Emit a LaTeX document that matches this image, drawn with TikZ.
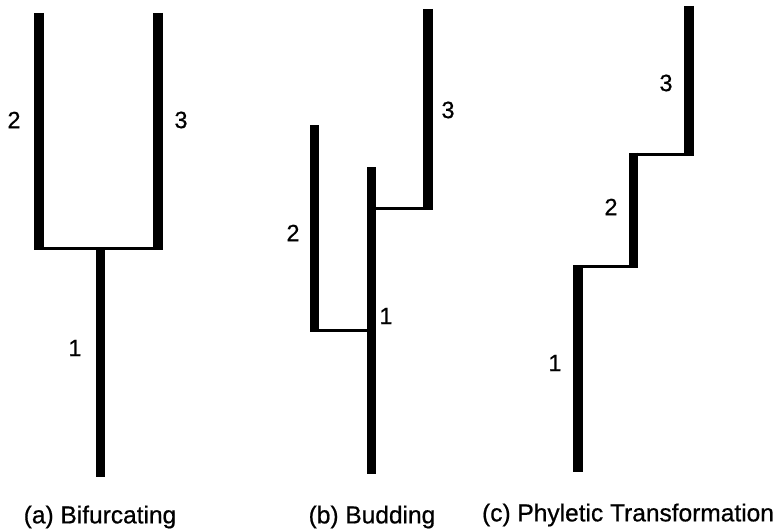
\documentclass[tikz,border=0pt]{standalone}
\usepackage{fontspec}
\setmainfont[FakeBold=0.7]{Liberation Sans}
\begin{document}
\begin{tikzpicture}[x=1pt,y=-1pt,
  lineage/.style={line width=9.5pt,line cap=butt},
  link/.style={line width=3pt,line cap=butt},
  lbl/.style={inner sep=0pt,font=\fontsize{23.5}{27}\selectfont},
  captext/.style={inner sep=0pt,font=\fontsize{24.5}{28}\selectfont}]
\useasboundingbox (0,0) rectangle (778,532);
% (a) Bifurcating
\coordinate (a2t) at (39,13);   \coordinate (a2b) at (39,249.5);
\coordinate (a3t) at (158,13);  \coordinate (a3b) at (158,249.5);
\coordinate (ahl) at (39,248);  \coordinate (ahr) at (158,248);
\coordinate (a1t) at (100.5,249); \coordinate (a1b) at (100.5,477);
\draw[lineage] (a2t) -- (a2b);
\draw[lineage] (a3t) -- (a3b);
\draw[link] (ahl) -- (ahr);
\draw[lineage] (a1t) -- (a1b);
\node[lbl] (la2) at (14,120) {2};
\node[lbl] (la3) at (181,120) {3};
\node[lbl] (la1) at (75,348) {1};
\node[captext] (capa) at (100,517) {(a) Bifurcating};
% (b) Budding
\coordinate (b2t) at (314.5,125); \coordinate (b2b) at (314.5,332);
\coordinate (bh1l) at (314.5,330); \coordinate (bh1r) at (371.5,330);
\coordinate (b1t) at (371.5,167); \coordinate (b1b) at (371.5,474);
\coordinate (bh2l) at (371.5,208.5); \coordinate (bh2r) at (428,208.5);
\coordinate (b3t) at (428,9); \coordinate (b3b) at (428,210);
\draw[lineage] (b2t) -- (b2b);
\draw[link] (bh1l) -- (bh1r);
\draw[lineage] (b1t) -- (b1b);
\draw[link] (bh2l) -- (bh2r);
\draw[lineage] (b3t) -- (b3b);
\node[lbl] (lb2) at (293,233) {2};
\node[lbl] (lb3) at (448,110) {3};
\node[lbl] (lb1) at (386,316) {1};
\node[captext] (capb) at (372,517) {(b) Budding};
% (c) Phyletic Transformation
\coordinate (c3t) at (689,6); \coordinate (c3b) at (689,155.5);
\coordinate (ch2l) at (633.5,154); \coordinate (ch2r) at (689,154);
\coordinate (c2t) at (633.5,152.5); \coordinate (c2b) at (633.5,268);
\coordinate (ch1l) at (578,266.5); \coordinate (ch1r) at (633.5,266.5);
\coordinate (c1t) at (578,265); \coordinate (c1b) at (578,472);
\draw[lineage] (c3t) -- (c3b);
\draw[link] (ch2l) -- (ch2r);
\draw[lineage] (c2t) -- (c2b);
\draw[link] (ch1l) -- (ch1r);
\draw[lineage] (c1t) -- (c1b);
\node[lbl] (lc3) at (666,83) {3};
\node[lbl] (lc2) at (611,207) {2};
\node[lbl] (lc1) at (555,363) {1};
\node[captext] (capc) at (628,515) {(c) Phyletic Transformation};
\end{tikzpicture}
\end{document}
